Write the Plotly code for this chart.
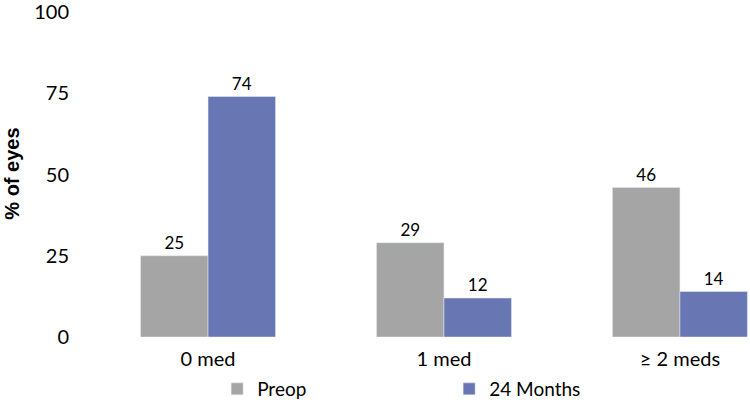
import plotly.graph_objects as go

categories = ["0 med", "1 med", "≥ 2 meds"]
preop = [25, 29, 46]
months24 = [74, 12, 14]
y_ticks = [0, 25, 50, 75, 100]

fig = go.Figure()
fig.add_trace(go.Bar(x=categories, y=preop, name="Preop", marker_color="#A5A5A5",
                     text=preop, textposition="outside", cliponaxis=False,
                     textfont=dict(family="Lato", size=17, color="#000")))
fig.add_trace(go.Bar(x=categories, y=months24, name="24 Months", marker_color="#6877B3",
                     text=months24, textposition="outside", cliponaxis=False,
                     textfont=dict(family="Lato", size=17, color="#000")))

fig.update_layout(
    width=750, height=402,
    margin=dict(l=108, r=0, t=12, b=65, autoexpand=False),
    paper_bgcolor="white", plot_bgcolor="white",
    barmode="group", bargap=0.428, bargroupgap=0,
    font=dict(family="Lato", size=19, color="#000"),
    showlegend=True,
    legend=dict(orientation="h", x=0.17, xanchor="left", y=-0.16, yanchor="middle",
                font=dict(family="Lato", size=19, color="#000"),
                entrywidth=187, itemwidth=30, bgcolor="rgba(0,0,0,0)"),
    xaxis=dict(showline=False, ticks="", tickfont=dict(size=20), range=[-0.424, 2.297],
               automargin=False, ticklabelstandoff=8),
    yaxis=dict(range=[0, 100], tickvals=y_ticks, showgrid=False, zeroline=False,
               showline=False, ticks="", tickfont=dict(size=20),
               ticklabelstandoff=38, automargin=False, ticklabeloverflow="allow"),
    annotations=[dict(text="% of eyes", xref="paper", yref="paper", x=-0.150, y=0.5015,
                      xanchor="center", yanchor="middle", textangle=-90, showarrow=False,
                      font=dict(family="Liberation Sans", size=20, weight="bold", color="#000"))],
)
fig.write_html("out.html", config={"displayModeBar": False},
               post_script="document.body.style.margin='0';document.body.style.padding='0';")
